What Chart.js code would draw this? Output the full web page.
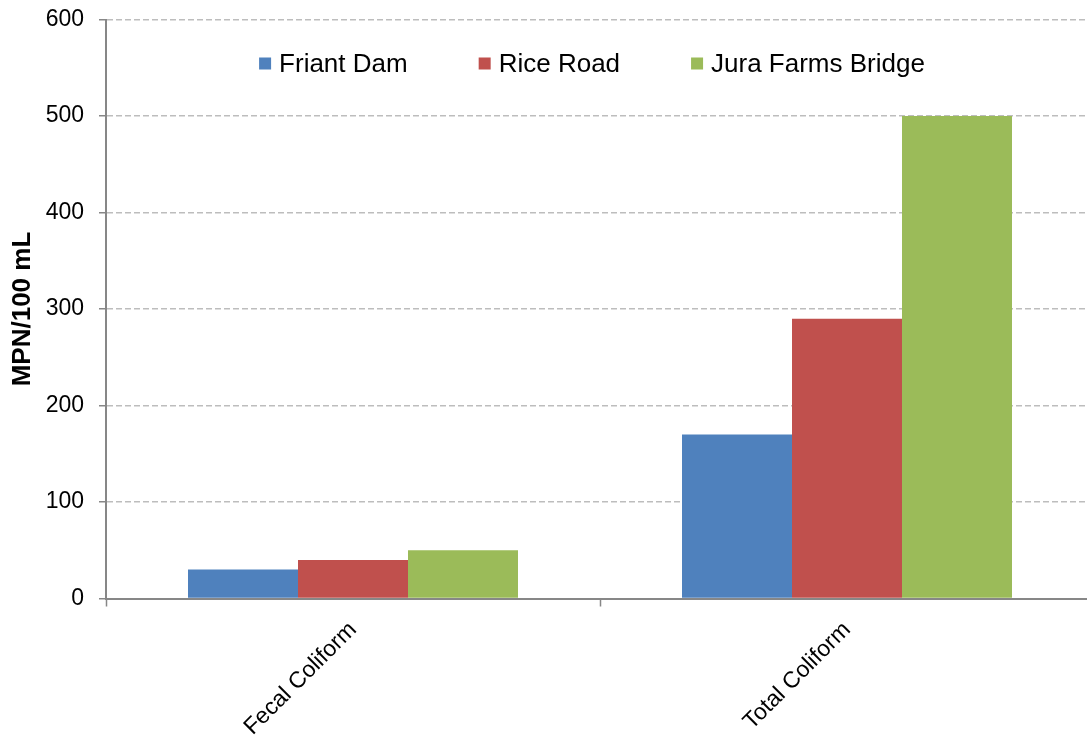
<!DOCTYPE html>
<html>
<head>
<meta charset="utf-8">
<title>Coliform by sampling site</title>
<script src="https://cdn.jsdelivr.net/npm/chart.js@4.4.1/dist/chart.umd.min.js"></script>
<style>
  html, body { margin: 0; padding: 0; background: #ffffff; overflow: hidden; }
  #wrap { width: 1087px; height: 738px; overflow: hidden; position: relative; }
  canvas { display: block; }
</style>
</head>
<body>
<div id="wrap"><canvas id="chart" width="1100" height="738"></canvas></div>
<script>
// Coliform counts (MPN/100 mL) at three sampling sites
const categories = ['Fecal Coliform', 'Total Coliform'];
const siteNames = ['Friant Dam', 'Rice Road', 'Jura Farms Bridge'];
const friantDam = [30, 170];
const riceRoad = [40, 290];
const juraFarmsBridge = [50, 500];
const siteColors = ['#4f81bd', '#c0504d', '#9bbb59'];
const yMin = 0;
const yMax = 600;
const yStep = 100;
const yTitle = 'MPN/100 mL';

const FONT = "'Liberation Sans', Arial, Helvetica, sans-serif";
const AXIS_GREY = '#878787';
const GRID_GREY = '#bdbdbd';

// Legend drawn inside the plot, centred near the top
const insideLegend = {
  id: 'insideLegend',
  afterDraw(chart) {
    const ctx = chart.ctx;
    const area = chart.chartArea;
    const box = 12, boxGap = 8, itemGap = 71;
    ctx.save();
    ctx.font = '26px ' + FONT;
    const items = chart.data.datasets.map(ds => ({
      label: ds.label,
      color: ds.backgroundColor,
      w: ctx.measureText(ds.label).width
    }));
    let total = 0;
    items.forEach((it, i) => {
      total += box + boxGap + it.w + (i < items.length - 1 ? itemGap : 0);
    });
    let x = (area.left + area.right) / 2 - 8 - total / 2;
    const cy = area.top + 44;
    ctx.textBaseline = 'middle';
    ctx.textAlign = 'left';
    items.forEach(it => {
      ctx.fillStyle = it.color;
      ctx.fillRect(x, cy - box / 2, box, box);
      x += box + boxGap;
      ctx.fillStyle = '#000000';
      ctx.fillText(it.label, x, cy + 1);
      x += it.w + itemGap;
    });
    ctx.restore();
  }
};

const seriesValues = [friantDam, riceRoad, juraFarmsBridge];

new Chart(document.getElementById('chart'), {
  type: 'bar',
  data: {
    labels: categories,
    datasets: siteNames.map((name, i) => ({
      label: name,
      data: seriesValues[i],
      backgroundColor: siteColors[i],
      borderWidth: 0,
      categoryPercentage: 0.668,
      barPercentage: 1.0
    }))
  },
  options: {
    responsive: false,
    devicePixelRatio: 1,
    animation: false,
    layout: { padding: { top: 19.5, right: 6, left: 0, bottom: 0 } },
    plugins: {
      legend: { display: false },
      tooltip: { enabled: false }
    },
    scales: {
      x: {
        offset: true,
        grid: {
          offset: true,
          drawOnChartArea: false,
          drawTicks: true,
          tickLength: 8,
          tickColor: AXIS_GREY,
          tickWidth: 1.5
        },
        border: { display: true, color: AXIS_GREY, width: 2 },
        ticks: {
          color: '#000000',
          font: { family: FONT, size: 23 },
          maxRotation: 45,
          minRotation: 45,
          padding: 10
        },
        afterFit(scale) {
          scale.height = 139.5;
          scale.paddingLeft = 0;
          scale.paddingRight = 0;
        }
      },
      y: {
        min: yMin,
        max: yMax,
        ticks: {
          stepSize: yStep,
          color: '#000000',
          font: { family: FONT, size: 23 },
          padding: 15
        },
        grid: {
          color: (c) => (c.tick && c.tick.value === yMin ? 'rgba(0,0,0,0)' : GRID_GREY),
          lineWidth: 1.5,
          tickColor: AXIS_GREY,
          tickWidth: 1.5,
          tickLength: 7,
          tickBorderDash: []
        },
        border: { display: true, color: AXIS_GREY, width: 2, dash: [6, 3] },
        title: {
          display: true,
          text: yTitle,
          color: '#000000',
          font: { family: FONT, size: 26, weight: 'bold' },
          padding: { top: 7, bottom: 0 }
        },
        afterFit(scale) {
          scale.width = 106;
          scale.paddingTop = 0;
          scale.paddingBottom = 0;
        }
      }
    }
  },
  plugins: [insideLegend]
});
</script>
</body>
</html>
